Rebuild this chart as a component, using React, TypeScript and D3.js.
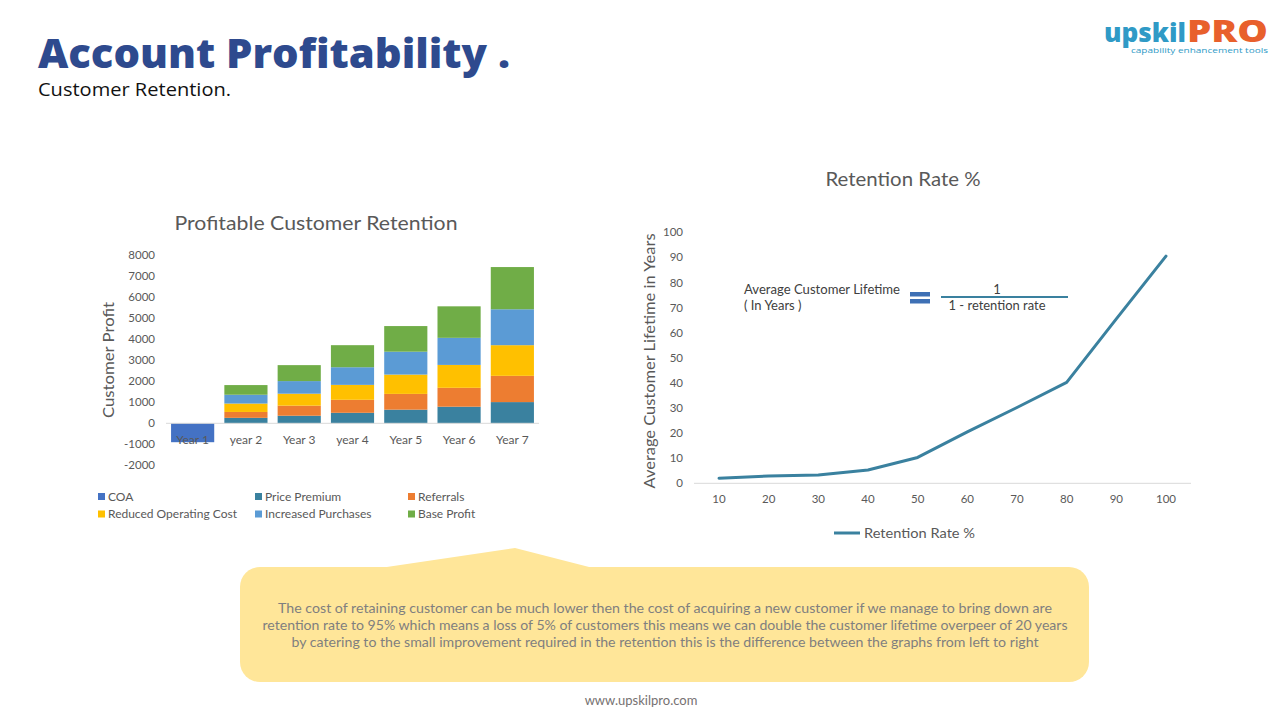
import React from "react";
import * as d3 from "d3";

const years = ["Year 1", "year 2", "Year 3", "year 4", "Year 5", "Year 6", "Year 7"];
const seriesNames = ["COA", "Price Premium", "Referrals", "Reduced Operating Cost", "Increased Purchases", "Base Profit"];
const seriesColors = ["#4472C4", "#3A819F", "#ED7D31", "#FFC000", "#5B9BD5", "#70AD47"];
const coa = [-900, 0, 0, 0, 0, 0, 0];
const pricePremium = [0, 260, 360, 500, 650, 790, 1010];
const referrals = [0, 280, 480, 620, 750, 900, 1250];
const reducedCost = [0, 400, 570, 710, 920, 1090, 1460];
const increasedPurchases = [0, 420, 600, 840, 1090, 1290, 1710];
const baseProfit = [0, 460, 760, 1050, 1220, 1500, 2010];
const leftTicks = [-2000, -1000, 0, 1000, 2000, 3000, 4000, 5000, 6000, 7000, 8000];

const retention = [10, 20, 30, 40, 50, 60, 70, 80, 90, 100];
const lifetime = [2, 2.9, 3.3, 5.3, 10.3, 20.5, 30.2, 40.2, 65.5, 90.5];
const rightTicks = [0, 10, 20, 30, 40, 50, 60, 70, 80, 90, 100];

const calloutLines = [
  "The cost of retaining customer can be much lower then the cost of acquiring a new customer if we manage to bring down are",
  "retention rate to 95% which means a loss of 5% of customers this means we can double the customer lifetime overpeer of 20 years",
  "by catering to the small improvement required in the retention this is the difference between the graphs from left to right",
];

const FONT = "Lato, 'Open Sans', sans-serif";
const GRAY = "#595959";

export default function App() {
  // Left chart
  const xL = d3.scaleBand<string>().domain(years).range([166, 539]).paddingInner(0.19).paddingOuter(0.095);
  const yL = d3.scaleLinear().domain([-2000, 8000]).range([465.3, 255.3]);
  const allSeries = [coa, pricePremium, referrals, reducedCost, increasedPurchases, baseProfit];
  const table = years.map((y, i) => {
    const o: any = { year: y };
    seriesNames.forEach((s, k) => (o[s] = allSeries[k][i]));
    return o;
  });
  const stacked = d3.stack<any>().keys(seriesNames).offset(d3.stackOffsetDiverging)(table);

  // Right chart
  const xR = d3.scalePoint<number>().domain(retention).range([719, 1166]);
  const yR = d3.scaleLinear().domain([0, 100]).range([483.3, 232.3]);
  const line = d3.line<number>().x((_, i) => xR(retention[i])!).y((d) => yR(d));

  const lineW = [774, 805, 747];

  return (
    <svg width={1280} height={720} style={{ position: "absolute", left: 0, top: 0, background: "#fff" }}>
      <rect width={1280} height={720} fill="#fff" />
      {/* Header */}
      <text x={38} y={68} fontFamily="'Open Sans', Lato, sans-serif" fontWeight={800} fontSize={40} fill="#2E4A8E" textLength={472} lengthAdjust="spacingAndGlyphs">
        Account Profitability .
      </text>
      <text x={38} y={96} fontFamily="'Open Sans', sans-serif" fontSize={18} fill="#111" textLength={193} lengthAdjust="spacingAndGlyphs">
        Customer Retention.
      </text>
      {/* Logo */}
      <text x={1104} y={42} fontFamily="'Open Sans', sans-serif" fontWeight={800} fontSize={27} fill="#2F9AC6" textLength={82} lengthAdjust="spacingAndGlyphs">
        upskil
      </text>
      <text x={1187} y={42} fontFamily="'Open Sans', sans-serif" fontWeight={800} fontSize={30} fill="#E8602C" textLength={81} lengthAdjust="spacingAndGlyphs">
        PRO
      </text>
      <text x={1131} y={53} fontFamily="'Open Sans', sans-serif" fontSize={8} fill="#2F9AC6" textLength={137} lengthAdjust="spacingAndGlyphs">
        capability enhancement tools
      </text>

      {/* Left chart */}
      <text x={316} y={230} textAnchor="middle" fontFamily={FONT} fontSize={19} fill={GRAY} textLength={283} lengthAdjust="spacingAndGlyphs">
        Profitable Customer Retention
      </text>
      <text transform="translate(114,360) rotate(-90)" textAnchor="middle" fontFamily={FONT} fontSize={16} fill={GRAY} textLength={116} lengthAdjust="spacingAndGlyphs">
        Customer Profit
      </text>
      {leftTicks.map((t) => (
        <text key={t} x={155} y={yL(t) + 4} textAnchor="end" fontFamily={FONT} fontSize={11.5} fill={GRAY}>
          {t}
        </text>
      ))}
      {stacked.map((s, k) => (
        <g key={s.key} fill={seriesColors[k]}>
          {s.map((d, i) =>
            d[1] - d[0] !== 0 ? (
              <rect key={i} x={xL(years[i])} width={xL.bandwidth()} y={yL(Math.max(d[0], d[1]))} height={Math.abs(yL(d[0]) - yL(d[1]))} />
            ) : null
          )}
        </g>
      ))}
      <line x1={166} x2={539} y1={yL(0)} y2={yL(0)} stroke="#D9D9D9" strokeWidth={1} />
      {years.map((y) => (
        <text key={y} x={xL(y)! + xL.bandwidth() / 2} y={444} textAnchor="middle" fontFamily={FONT} fontSize={12} fill={GRAY}>
          {y}
        </text>
      ))}
      {seriesNames.map((s, k) => {
        const col = k % 3;
        const row = Math.floor(k / 3);
        const lx = [98, 255, 408][col];
        const ly = 497 + row * 17.5;
        return (
          <g key={s}>
            <rect x={lx} y={ly - 4} width={7} height={7} fill={seriesColors[k]} />
            <text x={lx + 10} y={ly + 3.5} fontFamily={FONT} fontSize={12} fill={GRAY}>
              {s}
            </text>
          </g>
        );
      })}

      {/* Right chart */}
      <text x={903} y={186} textAnchor="middle" fontFamily={FONT} fontSize={19} fill={GRAY} textLength={155} lengthAdjust="spacingAndGlyphs">
        Retention Rate %
      </text>
      <text transform="translate(655,361) rotate(-90)" textAnchor="middle" fontFamily={FONT} fontSize={16} fill={GRAY} textLength={255} lengthAdjust="spacingAndGlyphs">
        Average Customer Lifetime in Years
      </text>
      {rightTicks.map((t) => (
        <text key={t} x={683} y={yR(t) + 4} textAnchor="end" fontFamily={FONT} fontSize={11.5} fill={GRAY}>
          {t}
        </text>
      ))}
      <line x1={694} x2={1191} y1={yR(0)} y2={yR(0)} stroke="#D9D9D9" strokeWidth={1} />
      {retention.map((r) => (
        <text key={r} x={xR(r)} y={503} textAnchor="middle" fontFamily={FONT} fontSize={11.5} fill={GRAY}>
          {r}
        </text>
      ))}
      <path d={line(lifetime)!} fill="none" stroke="#3A819F" strokeWidth={3} strokeLinejoin="round" strokeLinecap="round" />
      {/* Formula */}
      <text x={744} y={294} fontFamily={FONT} fontSize={13} fill="#404040" textLength={156} lengthAdjust="spacingAndGlyphs">Average Customer Lifetime</text>
      <text x={744} y={310} fontFamily={FONT} fontSize={13} fill="#404040">( In Years )</text>
      <rect x={910} y={292} width={20} height={4.5} fill="#3E70B5" />
      <rect x={910} y={299} width={20} height={4.5} fill="#3E70B5" />
      <line x1={941} x2={1068} y1={297} y2={297} stroke="#3A819F" strokeWidth={2} />
      <text x={997} y={294} textAnchor="middle" fontFamily={FONT} fontSize={13} fill="#404040">1</text>
      <text x={997} y={310} textAnchor="middle" fontFamily={FONT} fontSize={13} fill="#404040" textLength={97} lengthAdjust="spacingAndGlyphs">1 - retention rate</text>
      {/* Legend */}
      <line x1={834} x2={860} y1={533} y2={533} stroke="#3A819F" strokeWidth={3} />
      <text x={864} y={538} fontFamily={FONT} fontSize={14} fill={GRAY} textLength={111} lengthAdjust="spacingAndGlyphs">Retention Rate %</text>

      {/* Callout */}
      <path d="M380,568 L515,548 L593,568 Z" fill="#FFE699" />
      <rect x={240} y={567} width={849} height={115} rx={20} ry={20} fill="#FFE699" />
      {calloutLines.map((l, i) => (
        <text key={i} x={665} y={613 + i * 17} textAnchor="middle" fontFamily={FONT} fontSize={12.5} fill="#7F7F7F" textLength={lineW[i]} lengthAdjust="spacingAndGlyphs">
          {l}
        </text>
      ))}
      <text x={641} y={705} textAnchor="middle" fontFamily={FONT} fontSize={13} fill="#767171">www.upskilpro.com</text>
    </svg>
  );
}
